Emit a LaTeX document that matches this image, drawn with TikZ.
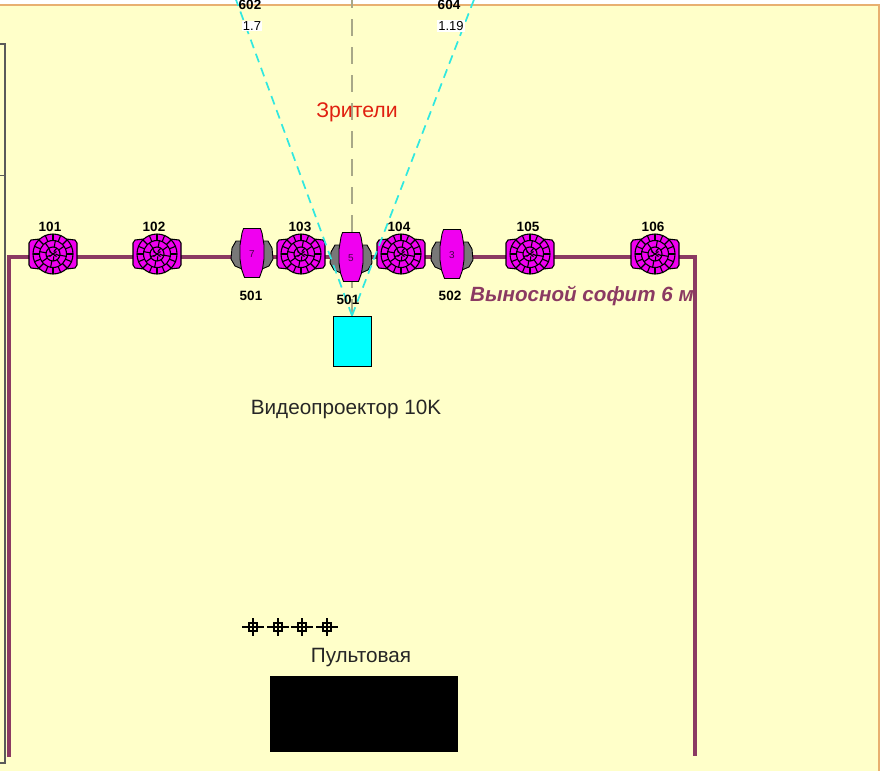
\documentclass[tikz,border=0pt]{standalone}
\usepackage{fontspec}
\setmainfont{Liberation Sans}
\definecolor{paper}{HTML}{FFFFC9}
\definecolor{rail}{HTML}{8B3A62}
\definecolor{topline}{HTML}{E8B070}
\definecolor{framegrey}{HTML}{5A5A5A}
\definecolor{hot}{HTML}{F000F0}
\definecolor{beam}{HTML}{30E8E0}
\definecolor{axisgrey}{HTML}{A8A888}
\definecolor{projcyan}{HTML}{00FFFF}
\definecolor{lobe}{HTML}{787878}
\definecolor{redtext}{HTML}{E02010}
\tikzset{
  lbl/.style={inner sep=0pt,font=\bfseries\fontsize{13.5}{15}\selectfont,text=black},
  val/.style={inner sep=1pt,font=\fontsize{13}{15}\selectfont,fill=white,text=black},
  caption/.style={inner sep=0pt,font=\fontsize{20.7}{23}\selectfont,text=black!85},
  railline/.style={draw=rail,line width=4.6pt,line join=miter},
  beamline/.style={draw=beam,line width=1.7pt,dash pattern=on 9pt off 6pt},
  axisline/.style={draw=axisgrey,line width=1.2pt,dash pattern=on 17pt off 11pt},
  fixturepoint/.style={coordinate},
  ink/.style={draw=black,line width=1.1pt}
}
\newcommand{\washlight}[3]{% name, x, y
  \node[fixturepoint] (#1) at (#2,#3) {};
  \begin{scope}[shift={(#1)}]
    \filldraw[ink,fill=hot] (-24,-11) -- (-22,-14) -- (-13,-15) -- (-13,15) -- (-22,14) -- (-24,11) -- cycle;
    \filldraw[ink,fill=hot] (24,-11) -- (22,-14) -- (13,-15) -- (13,15) -- (22,14) -- (24,11) -- cycle;
    \filldraw[ink,fill=hot] (0,0) circle (20);
    \draw[ink] (0,0) circle (13.5);
    \draw[ink] (0,0) circle (7);
    \foreach \a in {0,22.5,...,337.5} \draw[ink] (\a:13.5) -- (\a:20);
    \foreach \a in {10,55,...,340} \draw[ink] (\a:7) -- (\a:13.5);
    \foreach \a in {0,72,...,288} \draw[ink] (\a:2.5) -- (\a+15:7);
    \draw[ink] (-3.5,-2.5) -- (3.5,2.5) (-3.5,2.5) -- (3.5,-2.5);
  \end{scope}
}
\newcommand{\headlight}[4]{% name, x, y, number
  \node[fixturepoint] (#1) at (#2,#3) {};
  \begin{scope}[shift={(#1)}]
    \filldraw[draw=black,line width=0.9pt,fill=lobe] (-16,-12) -- (-20,-5) -- (-21,6) -- (-17,13) -- (-10,16) -- (10,16) -- (17,13) -- (21,6) -- (20,-5) -- (16,-12) -- cycle;
    \filldraw[draw=black,line width=0.9pt,fill=hot] (-8.5,-24.5) -- (8.5,-24.5) -- (10,-20) -- (12,-8) -- (12,6) -- (10.5,16) -- (7.5,24.5) -- (-7.5,24.5) -- (-10.5,16) -- (-12,6) -- (-12,-8) -- (-10,-20) -- cycle;
    \node[inner sep=0pt,font=\fontsize{10}{11}\selectfont,text=black!70!hot] (#1n) at (0,1) {#4};
  \end{scope}
}
\begin{document}
\begin{tikzpicture}[x=1pt,y=-1pt]
\useasboundingbox (0,0) rectangle (880,771);
\clip (0,0) rectangle (880,771);
\fill[white] (0,0) rectangle (880,771);
\fill[paper] (0,5) rectangle (880,771);
\draw[topline,line width=1.4pt] (0,5) -- (879,5) -- (879,771);
% framing line
\draw[framegrey,line width=1.2pt] (0,44) -- (5,44) -- (5,763) -- (0,763);
\draw[framegrey,line width=1pt] (0,175) -- (5,175);
% projector and console
\node[draw=black,line width=0.7pt,fill=projcyan,minimum width=38pt,minimum height=50pt,inner sep=0pt] (proj) at (352,341) {};
\node[fill=black,minimum width=188pt,minimum height=76pt,inner sep=0pt] (desk) at (364,714) {};
% centre axis, behind the fixtures
\coordinate (axisTop) at (352,-3);
\draw[axisline] (proj.north) -- (axisTop);
% caption for the rail sits under the rail
\node[inner sep=0pt,anchor=west,text=rail,font=\bfseries\itshape\fontsize{20.6}{23}\selectfont] (railname) at (470,296) {Выносной софит 6 м};
% rail
\coordinate (railA) at (9,757);
\coordinate (railB) at (9,257);
\coordinate (railC) at (695,257);
\coordinate (railD) at (695,756);
\draw[railline] (railA) -- (railB) -- (railC) -- (railD);
% fixtures
\washlight{w101}{53}{254}
\washlight{w102}{157}{254}
\washlight{w103}{301}{254}
\washlight{w104}{401}{254}
\washlight{w105}{530}{254}
\washlight{w106}{655}{254}
\headlight{h1}{252}{253}{7}
\headlight{h2}{351}{257}{5}
\headlight{h3}{452}{254}{3}
% beams
\coordinate (beamL) at (235,-3);
\coordinate (beamR) at (475,-3);
\draw[beamline] (proj.north) -- (beamL);
\draw[beamline] (proj.north) -- (beamR);
% labels
\node[lbl] (l101) at (50,227) {101};
\node[lbl] (l102) at (154,227) {102};
\node[lbl] (l103) at (300,227) {103};
\node[lbl] (l104) at (399,227) {104};
\node[lbl] (l105) at (528,227) {105};
\node[lbl] (l106) at (653,227) {106};
\node[lbl] (l501a) at (251,296) {501};
\node[lbl] (l501b) at (348,300) {501};
\node[lbl] (l502) at (450,296) {502};
\node[lbl] (l602) at (250,5) {602};
\node[lbl] (l604) at (449,5) {604};
\node[val] (v602) at (252,26) {1.7};
\node[val] (v604) at (451,26) {1.19};
\node[inner sep=0pt,text=redtext,font=\fontsize{21.2}{23}\selectfont] (aud) at (357,112) {Зрители};
\node[caption] (cproj) at (346,409) {Видеопроектор 10K};
\node[caption] (cdesk) at (361,658) {Пультовая};
% cross marks
\foreach \n/\x in {a/253,b/278,c/302,d/327}{
  \node[draw=black,line width=1.1pt,minimum size=8pt,inner sep=0pt] (m\n) at (\x,627) {};
  \draw[black,line width=1.1pt] (\x-11,627) -- (\x+11,627) (\x,618) -- (\x,636);
}
\end{tikzpicture}
\end{document}
